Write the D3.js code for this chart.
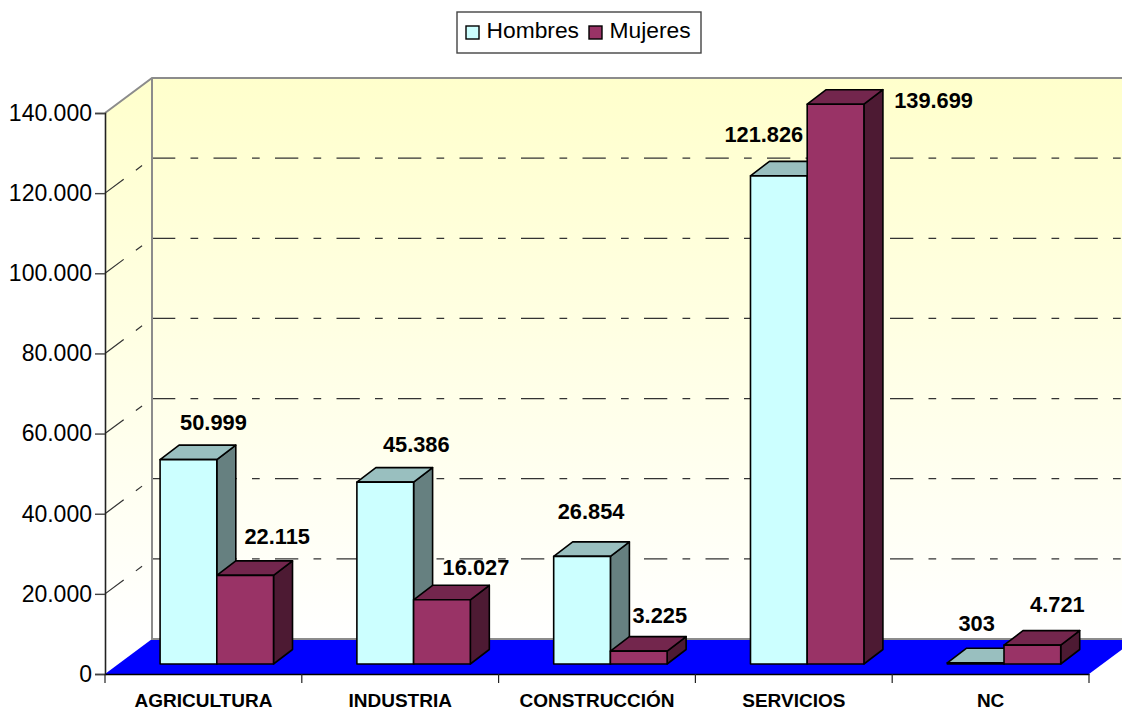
<!DOCTYPE html>
<html>
<head>
<meta charset="utf-8">
<script src="https://cdn.jsdelivr.net/npm/d3@7"></script>
<style>
  html, body { margin: 0; padding: 0; background: #fff; overflow: hidden; }
  text { font-family: "Liberation Sans", Arial, sans-serif; fill: #000; }
</style>
</head>
<body>
<div class="chart"></div>
<script>
// chart values
var categories = ["AGRICULTURA", "INDUSTRIA", "CONSTRUCCIÓN", "SERVICIOS", "NC"];
var seriesNames = ["Hombres", "Mujeres"];
var hombres = [50999, 45386, 26854, 121826, 303];
var mujeres = [22115, 16027, 3225, 139699, 4721];
var yTicks = [0, 20000, 40000, 60000, 80000, 100000, 120000, 140000];

// data labels were dragged by hand in the original, [dx from bar centre, dy above bar top]
var labelNudge = {
  Hombres: [[25, 30], [31, 30], [9, 37], [-15, 34], [1, 32]],
  Mujeres: [[32, 31], [34, 25], [21, 28], [98, -4], [25, 33]]
};

var colors = {
  Hombres: { front: "#CCFFFF", top: "#99BFBF", side: "#668080" },
  Mujeres: { front: "#993366", top: "#73264D", side: "#4D1A33" }
};

var svgWidth = 1122;
var svgHeight = 711;

// front plane of the 3d box
var plotLeft = 105, plotRight = 1089, plotBottom = 674, plotTop = 113;
// how far the back wall is shifted from the front plane
var wallDx = 47, wallDy = -35;
// bars sit part way in, and have their own depth
var barShiftX = 13.4, barShiftY = -10;
var barDx = 19, barDy = -14.5;

var svg = d3.select(".chart")
  .append("svg")
  .attr("width", svgWidth)
  .attr("height", svgHeight)
  .style("display", "block");

var yScale = d3.scaleLinear().domain([0, 140000]).range([plotBottom, plotTop]);
var x0 = d3.scaleBand().domain(categories).range([plotLeft, plotRight]);
var x1 = d3.scaleBand().domain(seriesNames).range([0, x0.bandwidth()]).paddingOuter(0.735);

var fmt = d3.formatLocale({ decimal: ",", thousands: ".", grouping: [3], currency: ["", ""] }).format(",d");

var grad = svg.append("defs").append("linearGradient")
  .attr("id", "wall")
  .attr("gradientUnits", "userSpaceOnUse")
  .attr("x1", 0).attr("x2", 0)
  .attr("y1", plotTop + wallDy).attr("y2", plotBottom + wallDy);
grad.append("stop").attr("offset", "0%").attr("stop-color", "#FFFFCC");
grad.append("stop").attr("offset", "100%").attr("stop-color", "#FFFFFF");

function poly(pts) {
  return pts.map(function(p) { return p.join(","); }).join(" ");
}

// walls and floor
var backLeft = plotLeft + wallDx, backRight = plotRight + wallDx;
var backTop = plotTop + wallDy, backBottom = plotBottom + wallDy;

svg.append("polygon")
  .attr("points", poly([[plotLeft, plotTop], [backLeft, backTop], [backLeft, backBottom], [plotLeft, plotBottom]]))
  .attr("fill", "url(#wall)");
svg.append("rect")
  .attr("x", backLeft).attr("y", backTop)
  .attr("width", backRight - backLeft).attr("height", backBottom - backTop)
  .attr("fill", "url(#wall)");
svg.append("polygon")
  .attr("points", poly([[plotLeft, plotBottom], [backLeft, backBottom], [backRight, backBottom], [plotRight, plotBottom]]))
  .attr("fill", "#0000FF");

// gridlines, back wall and side wall
var dash = "23.3,15.2,7.7,15.3";
var gridTicks = yTicks.slice(1, -1);
svg.append("g").selectAll("line")
  .data(gridTicks)
  .enter()
  .append("line")
  .attr("x1", backLeft).attr("x2", backRight)
  .attr("y1", d => yScale(d) + wallDy).attr("y2", d => yScale(d) + wallDy)
  .attr("stroke", "#333")
  .attr("stroke-width", 1.2)
  .attr("stroke-dasharray", dash);
svg.append("g").selectAll("line")
  .data(gridTicks)
  .enter()
  .append("line")
  .attr("x1", plotLeft).attr("x2", backLeft)
  .attr("y1", d => yScale(d)).attr("y2", d => yScale(d) + wallDy)
  .attr("stroke", "#333")
  .attr("stroke-width", 1.2)
  .attr("stroke-dasharray", dash);

// wall edges
svg.append("path")
  .attr("d", `M${plotLeft},${plotTop}L${backLeft},${backTop}L${backRight},${backTop}M${backLeft},${backTop}V${backBottom}H${backRight}`)
  .attr("fill", "none")
  .attr("stroke", "#8C8C8C")
  .attr("stroke-width", 2);

// bars
var barData = [];
categories.forEach(function(c, i) {
  barData.push({ cat: c, i: i, name: "Hombres", value: hombres[i] });
  barData.push({ cat: c, i: i, name: "Mujeres", value: mujeres[i] });
});

var bars = svg.append("g").selectAll("g")
  .data(barData)
  .enter()
  .append("g");

function barBox(d) {
  var x = x0(d.cat) + x1(d.name) + barShiftX;
  return {
    x: x,
    w: x1.bandwidth(),
    y: yScale(d.value) + barShiftY,
    y0: yScale(0) + barShiftY
  };
}

bars.append("polygon")
  .attr("points", function(d) {
    var b = barBox(d);
    return poly([[b.x + b.w, b.y], [b.x + b.w + barDx, b.y + barDy], [b.x + b.w + barDx, b.y0 + barDy], [b.x + b.w, b.y0]]);
  })
  .attr("fill", d => colors[d.name].side);
bars.append("polygon")
  .attr("points", function(d) {
    var b = barBox(d);
    return poly([[b.x, b.y], [b.x + barDx, b.y + barDy], [b.x + b.w + barDx, b.y + barDy], [b.x + b.w, b.y]]);
  })
  .attr("fill", d => colors[d.name].top);
bars.append("rect")
  .attr("x", d => barBox(d).x)
  .attr("y", d => barBox(d).y)
  .attr("width", d => barBox(d).w)
  .attr("height", d => barBox(d).y0 - barBox(d).y)
  .attr("fill", d => colors[d.name].front);
bars.selectAll("polygon, rect")
  .attr("stroke", "#000")
  .attr("stroke-width", 1.6)
  .attr("stroke-linejoin", "round");

// data labels
svg.append("g").selectAll("text")
  .data(barData)
  .enter()
  .append("text")
  .attr("x", d => barBox(d).x + barBox(d).w / 2 + labelNudge[d.name][d.i][0])
  .attr("y", d => barBox(d).y - labelNudge[d.name][d.i][1])
  .attr("text-anchor", "middle")
  .style("font-size", "21.8px")
  .style("font-weight", "bold")
  .text(d => fmt(d.value));

// y axis
var yAxis = d3.axisLeft(yScale)
  .tickValues(yTicks)
  .tickFormat(fmt)
  .tickSize(10)
  .tickPadding(3);
var yG = svg.append("g")
  .attr("transform", `translate(${plotLeft},0)`)
  .call(yAxis);
yG.selectAll("text").style("font-size", "23px");
yG.selectAll("line").attr("stroke", "#444").attr("stroke-width", 1.4);
yG.select(".domain").attr("stroke", "#222").attr("stroke-width", 1.6);

// x axis, ticks go on the category boundaries so the axis ticks are hidden
var xAxis = d3.axisBottom(x0).tickSize(0).tickPadding(20);
var xG = svg.append("g")
  .attr("transform", `translate(0,${plotBottom})`)
  .call(xAxis);
xG.selectAll("text").style("font-size", "19px").style("font-weight", "bold");
xG.select(".domain").attr("stroke", "#000").attr("stroke-width", 1.6);
xG.selectAll(".boundary")
  .data(categories.concat(["end"]))
  .enter()
  .append("line")
  .attr("class", "boundary")
  .attr("x1", (d, i) => plotLeft + i * x0.step())
  .attr("x2", (d, i) => plotLeft + i * x0.step())
  .attr("y1", 0).attr("y2", 9)
  .attr("stroke", "#222")
  .attr("stroke-width", 1.2);

// legend
var legend = svg.append("g");
legend.append("rect")
  .attr("x", 457).attr("y", 12)
  .attr("width", 244).attr("height", 41)
  .attr("fill", "#fff")
  .attr("stroke", "#444")
  .attr("stroke-width", 1.4);
var legendX = { Hombres: 466, Mujeres: 589 };
seriesNames.forEach(function(name) {
  legend.append("rect")
    .attr("x", legendX[name]).attr("y", 26)
    .attr("width", 13).attr("height", 13)
    .attr("fill", colors[name].front)
    .attr("stroke", "#000")
    .attr("stroke-width", 1.4);
  legend.append("text")
    .attr("x", legendX[name] + 20.5)
    .attr("y", 38)
    .style("font-size", "22.8px")
    .text(name);
});
</script>
</body>
</html>
